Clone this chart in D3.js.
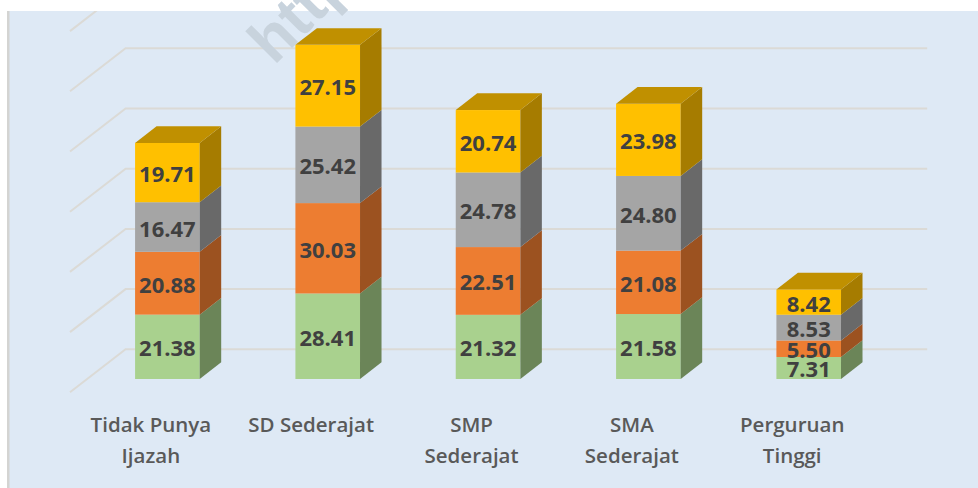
<!DOCTYPE html>
<html><head><meta charset="utf-8">
<script src="https://cdn.jsdelivr.net/npm/d3@7"></script>
<style>html,body{margin:0;padding:0;background:#fff}svg{display:block}</style>
</head><body><svg id="c" width="978" height="488"></svg>
<script>
const categories=[["Tidak Punya","Ijazah"],["SD Sederajat"],["SMP","Sederajat"],["SMA","Sederajat"],["Perguruan","Tinggi"]];
const categoryKeys=["Tidak Punya Ijazah","SD Sederajat","SMP Sederajat","SMA Sederajat","Perguruan Tinggi"];
const s1=[21.38,28.41,21.32,21.58,7.31];
const s2=[20.88,30.03,22.51,21.08,5.50];
const s3=[16.47,25.42,24.78,24.80,8.53];
const s4=[19.71,27.15,20.74,23.98,8.42];
const seriesValues=[s1,s2,s3,s4];
const frontColors=["#a9d18e","#ed7d31","#a5a5a5","#ffc000"];
const sideColors=["#6b8558","#9c5220","#696969","#a67c00"];
const topColor="#c09000";
const gridTicks=[0,20,40,60,80,100,120];

const svg=d3.select("#c");
const W=978,H=488;
svg.append("defs").append("clipPath").attr("id","panel").append("rect").attr("x",7).attr("y",11).attr("width",W-7).attr("height",H-11);
svg.append("rect").attr("x",7).attr("y",11).attr("width",W-7).attr("height",H-11).attr("fill","#dee9f5");
svg.append("rect").attr("x",7).attr("y",11).attr("width",2.5).attr("height",H-11).attr("fill","#d4d4d2");

const x=d3.scaleBand().domain(categoryKeys).range([87.3,888.8]).paddingInner(0.597).paddingOuter(0.298);
const y=d3.scaleLinear().domain([0,120]).range([379,17.8]);
const depth={dx:21.5,dy:16.7};
const wall={dx:55.6,dy:29.7};
const wallX0=125.6,wallX1=927.2,floorX=70;

const grid=svg.append("g").attr("clip-path","url(#panel)").attr("fill","none").attr("stroke","#dbdad6").attr("stroke-width",2);
gridTicks.forEach(t=>{
  const by=y(t)-wall.dy;
  grid.append("path").attr("d",d3.line()([[floorX,by+43],[wallX0,by],[wallX1,by]]));
});

// watermark
svg.append("text").attr("transform","translate(274,66) rotate(-45)")
  .attr("font-family","'Liberation Sans',sans-serif").attr("font-weight",700).attr("font-size",62)
  .attr("fill","#c8d3dd").text("http");

const stacks=d3.stack().keys(d3.range(4)).value((d,k)=>seriesValues[k][d])(d3.range(5));
const barG=svg.append("g");
categoryKeys.forEach((c,i)=>{
  const xl=x(c),w=x.bandwidth(),xr=xl+w;
  stacks.forEach((st,k)=>{
    const y0=y(st[i][0]),y1=y(st[i][1]);
    barG.append("rect").attr("x",xl).attr("y",y1).attr("width",w).attr("height",y0-y1).attr("fill",frontColors[k]);
    barG.append("path").attr("fill",sideColors[k])
      .attr("d",d3.line()([[xr,y0],[xr+depth.dx,y0-depth.dy],[xr+depth.dx,y1-depth.dy],[xr,y1]])+"Z");
  });
  const t=y(stacks[3][i][1]);
  barG.append("path").attr("fill",topColor)
    .attr("d",d3.line()([[xl,t],[xl+depth.dx,t-depth.dy],[xr+depth.dx,t-depth.dy],[xr,t]])+"Z");
  stacks.forEach((st,k)=>{
    const v=seriesValues[k][i];
    barG.append("text").attr("x",xl+w/2).attr("y",(y(st[i][0])+y(st[i][1]))/2+0.5)
      .attr("text-anchor","middle").attr("dominant-baseline","central")
      .attr("font-family","'Open Sans',sans-serif").attr("font-weight",700).attr("font-size",22)
      .attr("fill","#404040").text(v.toFixed(2));
  });
  const lab=svg.append("text").attr("text-anchor","middle")
    .attr("font-family","'Open Sans',sans-serif").attr("font-weight",600).attr("font-size",20.5)
    .attr("fill","#595959");
  categories[i].forEach((l,j)=>{
    lab.append("tspan").attr("x",xl+w/2-16.5).attr("y",431.5+j*31).text(l);
  });
});
</script></body></html>
